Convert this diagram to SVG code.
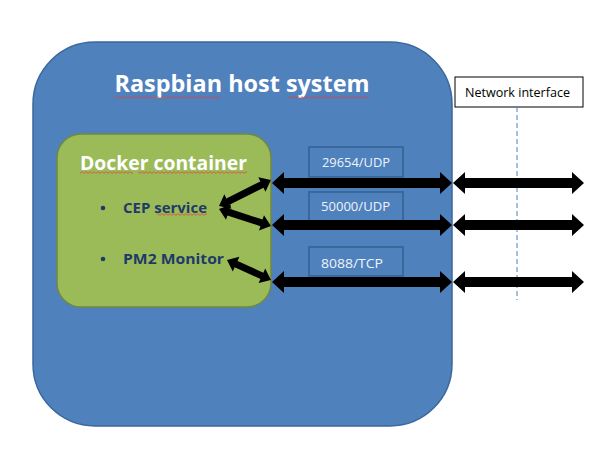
<svg xmlns="http://www.w3.org/2000/svg" width="601" height="455" viewBox="0 0 601 455">
<defs>
<style>
.host{fill:#4F81BD;stroke:#3A679C;stroke-width:1.5}
.cont{fill:#9BBB59;stroke:#71893F;stroke-width:1.5}
.port{fill:#4F81BD;stroke:#3A679C;stroke-width:2}
.t{font-family:"Open Sans","Liberation Sans",sans-serif}
.white{fill:#FFFFFF;font-weight:bold}
.svc{fill:#1F3A68;font-weight:bold;font-size:15px}
.pt{fill:#EEF3FA;font-size:13px}
.arr{fill:#000000}
</style>
<pattern id="sq" width="4" height="3" patternUnits="userSpaceOnUse">
<path d="M0,2.4 L2,0.6 L4,2.4" fill="none" stroke="#E04040" stroke-width="0.8"/>
</pattern>
</defs>
<rect width="601" height="455" fill="#FFFFFF"/>
<g id="host">
<rect class="host" x="33" y="42" width="419" height="384" rx="62" ry="62"/>
<text class="t white" x="242" y="92" font-size="24" text-anchor="middle" textLength="255" lengthAdjust="spacingAndGlyphs">Raspbian host system</text>
<rect x="114" y="96" width="106" height="3" fill="url(#sq)"/>
<rect x="288" y="96" width="81" height="3" fill="url(#sq)"/>
</g>
<g id="docker">
<rect class="cont" x="57" y="134" width="214" height="173" rx="24" ry="24"/>
<text class="t white" x="80" y="170" font-size="20" textLength="167" lengthAdjust="spacingAndGlyphs">Docker container</text>
<rect x="80" y="171" width="53" height="3" fill="url(#sq)"/>
<rect x="138" y="171" width="109" height="3" fill="url(#sq)"/>
</g>
<g id="cep">
<circle cx="103" cy="208" r="2.3" fill="#1F3A68"/>
<text class="t svc" x="123" y="213" textLength="84" lengthAdjust="spacingAndGlyphs">CEP service</text>
<rect x="157" y="213" width="50" height="3" fill="url(#sq)"/>
</g>
<g id="pm2">
<circle cx="103" cy="259" r="2.3" fill="#1F3A68"/>
<text class="t svc" x="123" y="264" textLength="101" lengthAdjust="spacingAndGlyphs">PM2 Monitor</text>
</g>
<g id="port-29654">
<rect class="port" x="309" y="147" width="94" height="30"/>
<text class="t pt" x="322" y="167" textLength="68" lengthAdjust="spacingAndGlyphs">29654/UDP</text>
</g>
<g id="port-50000">
<rect class="port" x="309" y="192" width="94" height="29"/>
<text class="t pt" x="321" y="211" textLength="69" lengthAdjust="spacingAndGlyphs">50000/UDP</text>
</g>
<g id="port-8088">
<rect class="port" x="309" y="247" width="94" height="29"/>
<text class="t pt" x="321" y="268" textLength="62" lengthAdjust="spacingAndGlyphs">8088/TCP</text>
</g>
<g id="network-interface">
<rect x="455" y="77" width="128" height="30" fill="#FFFFFF" stroke="#000000" stroke-width="1"/>
<text class="t" x="465" y="97" font-size="13" fill="#000000" textLength="105" lengthAdjust="spacingAndGlyphs">Network interface</text>
<line x1="517" y1="107" x2="517" y2="300" stroke="#4F81BD" stroke-width="1" stroke-dasharray="5,3"/>
</g>
<g id="connectors">
<path class="arr" transform="translate(272,183)" d="M0,0 L12,-11 L12,-5 L168,-5 L168,-11 L180,0 L168,11 L168,5 L12,5 L12,11 Z"/>
<path class="arr" transform="translate(453,183)" d="M0,0 L12,-11 L12,-5 L119,-5 L119,-11 L131,0 L119,11 L119,5 L12,5 L12,11 Z"/>
<path class="arr" transform="translate(272,225)" d="M0,0 L12,-11 L12,-5 L168,-5 L168,-11 L180,0 L168,11 L168,5 L12,5 L12,11 Z"/>
<path class="arr" transform="translate(453,225)" d="M0,0 L12,-11 L12,-5 L119,-5 L119,-11 L131,0 L119,11 L119,5 L12,5 L12,11 Z"/>
<path class="arr" transform="translate(272,282)" d="M0,0 L12,-11 L12,-5 L168,-5 L168,-11 L180,0 L168,11 L168,5 L12,5 L12,11 Z"/>
<path class="arr" transform="translate(453,282)" d="M0,0 L12,-11 L12,-5 L119,-5 L119,-11 L131,0 L119,11 L119,5 L12,5 L12,11 Z"/>
<path class="arr" transform="translate(219,206) rotate(-26.6)" d="M0,0 L10,-8 L10,-3.5 L48,-3.5 L48,-8 L58,0 L48,8 L48,3.5 L10,3.5 L10,8 Z"/>
<path class="arr" transform="translate(219,209) rotate(18.1)" d="M0,0 L10,-8 L10,-3.5 L44.7,-3.5 L44.7,-8 L54.7,0 L44.7,8 L44.7,3.5 L10,3.5 L10,8 Z"/>
<path class="arr" transform="translate(227,260) rotate(24.4)" d="M0,0 L10,-8 L10,-3.5 L38.3,-3.5 L38.3,-8 L48.3,0 L38.3,8 L38.3,3.5 L10,3.5 L10,8 Z"/>
</g>
</svg>
